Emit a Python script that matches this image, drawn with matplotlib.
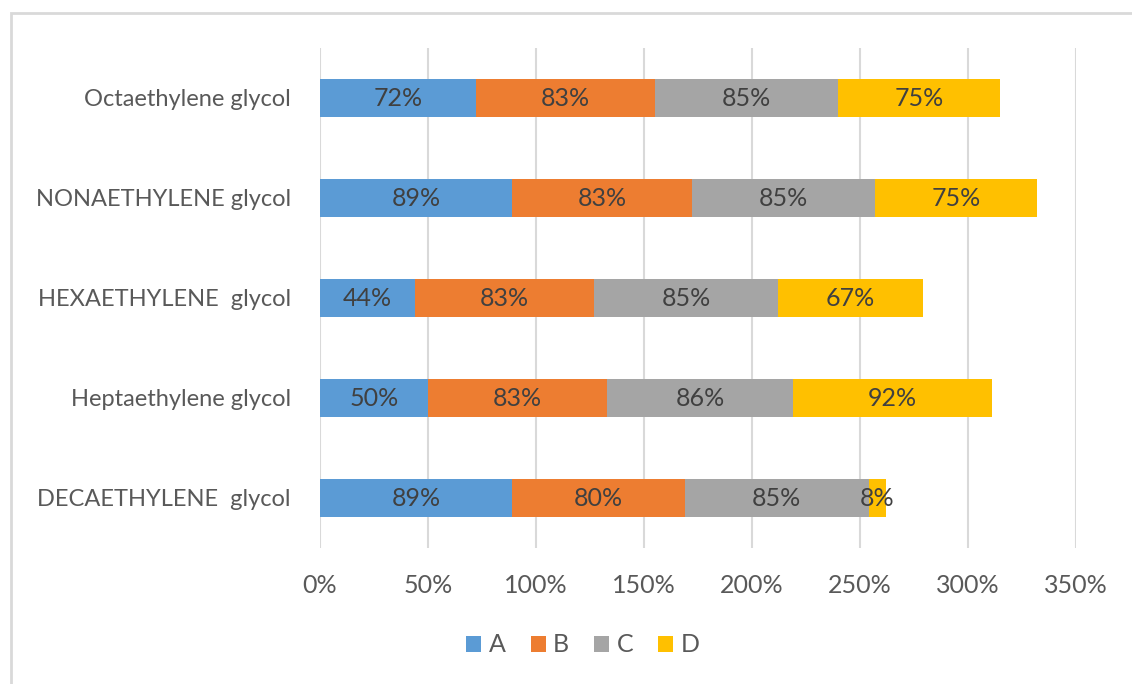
import matplotlib.pyplot as plt
from matplotlib.patches import Rectangle
from matplotlib.ticker import FuncFormatter

categories = ["DECAETHYLENE  glycol", "Heptaethylene glycol", "HEXAETHYLENE  glycol",
              "NONAETHYLENE glycol", "Octaethylene glycol"]
series_names = ["A", "B", "C", "D"]
a_vals = [89, 50, 44, 89, 72]
b_vals = [80, 83, 83, 83, 83]
c_vals = [85, 86, 85, 85, 85]
d_vals = [8, 92, 67, 75, 75]
x_ticks = [0, 50, 100, 150, 200, 250, 300, 350]

colors = ["#5B9BD5", "#ED7D31", "#A5A5A5", "#FFC000"]
text_col = "#595959"
plt.rcParams['font.family'] = ['Lato', 'DejaVu Sans']

W, H = 1132, 684
fig = plt.figure(figsize=(W / 100, H / 100), dpi=100)
fig.patches.append(Rectangle((11 / W, -0.1), 1.2, 1 - 13 / H + 0.1, transform=fig.transFigure,
                             fill=False, edgecolor="#D9D9D9", lw=2))

ax = fig.add_axes([320 / W, 1 - 548 / H, (1076 - 320) / W, 500 / H])

left = [0] * len(categories)
for name, vals, col in zip(series_names, [a_vals, b_vals, c_vals, d_vals], colors):
    ax.barh(range(len(categories)), vals, left=left, height=0.38, color=col, label=name, zorder=3)
    for i, v in enumerate(vals):
        ax.text(left[i] + v / 2, i, f"{v}%", ha='center', va='center', fontsize=18, color="#404040", zorder=4)
    left = [l + v for l, v in zip(left, vals)]

ax.set_xlim(0, 350)
ax.set_ylim(-0.5, len(categories) - 0.5)
ax.set_xticks(x_ticks)
ax.xaxis.set_major_formatter(FuncFormatter(lambda x, p: f"{int(x)}%"))
ax.set_yticks(range(len(categories)))
ax.set_yticklabels(categories)
ax.grid(axis='x', color="#D9D9D9", lw=1.5, zorder=0)
for s in ax.spines.values():
    s.set_visible(False)
ax.tick_params(length=0, labelsize=18, colors=text_col)
ax.tick_params(axis='y', labelsize=17, pad=21)
ax.tick_params(axis='x', pad=19)

fig.legend(loc='center', bbox_to_anchor=(583 / W, 1 - 645 / H), ncol=4, frameon=False,
           fontsize=18, labelcolor=text_col, handlelength=0.6, handleheight=0.6,
           handletextpad=0.3, columnspacing=1.0)

fig.savefig("out.png", dpi=100)
